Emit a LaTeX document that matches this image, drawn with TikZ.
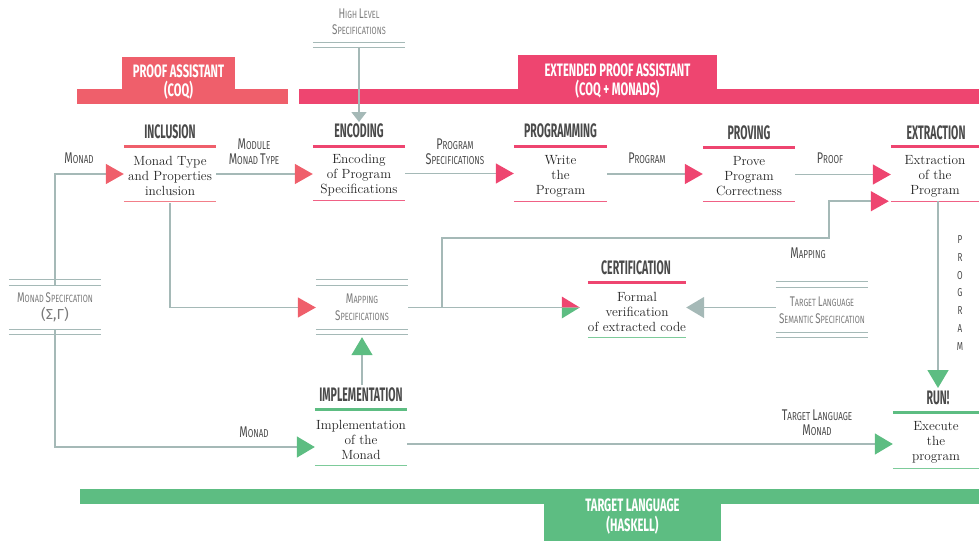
\documentclass[tikz,border=0pt]{standalone}
\usepackage{fontspec}
\usetikzlibrary{arrows.meta,calc}
\newfontfamily\hfont[FakeStretch=0.54]{Fira Sans}
\newfontfamily\bfont[FakeStretch=0.62]{Fira Sans}
\newfontfamily\lfont[FakeStretch=0.7]{Fira Sans}
\newfontfamily\gfont{Fira Sans}
\definecolor{pinkc}{HTML}{EE4570}
\definecolor{salm}{HTML}{EF5F6B}
\definecolor{greenc}{HTML}{5DBD82}
\definecolor{greenl}{HTML}{7DCB9A}
\definecolor{gline}{HTML}{A5B9B7}
\definecolor{titlec}{HTML}{4A4A4A}
\definecolor{labc}{HTML}{4A4A4A}
\definecolor{lightlab}{HTML}{7A7A7A}
\definecolor{txt}{HTML}{222222}
\newcommand\scw[2]{{\fontsize{15.5}{15}\selectfont #1}{\fontsize{11.5}{15}\selectfont #2}}
\newcommand\scws[2]{{\fontsize{14}{17}\selectfont #1}{\fontsize{10.5}{17}\selectfont #2}}
\tikzset{
  box/.style={minimum width=92pt, minimum height=54pt, inner sep=0pt, align=center,
    font=\fontsize{13.3}{15}\selectfont, text=txt},
  gbox/.style={minimum width=92pt, minimum height=43pt, inner sep=0pt, align=center,
    font=\lfont\fontsize{10.5}{17}\selectfont, text=lightlab},
  titlen/.style={anchor=base, inner sep=0pt, font=\hfont\bfseries\fontsize{19.5}{19.5}\selectfont, text=titlec},
  bartext/.style={align=center, inner sep=0pt, text=white, font=\bfont\bfseries\fontsize{18}{19}\selectfont},
  lab/.style={align=center, inner sep=0pt, text=labc, font=\lfont\fontsize{11.5}{15}\selectfont},
  gl/.style={draw=gline, line width=1.5pt},
  tipS/.style={-{Triangle[length=18pt,width=20pt,color=salm]}},
  tipP/.style={-{Triangle[length=18pt,width=20pt,color=pinkc]}},
  tipG/.style={-{Triangle[length=18pt,width=21pt,color=greenc]}},
  tipGray/.style={-{Triangle[length=10pt,width=15pt,color=gline]}},
  tipGrayB/.style={-{Triangle[length=18pt,width=21pt,color=gline]}},
  topl/.style={line width=3pt},
  botl/.style={line width=1.3pt},
  dbl/.style={draw=gline, line width=1.3pt}
}
\newcommand\boxlines[3]{%
  \draw[topl,#2] ([yshift=2pt]#1.north west) -- ([yshift=2pt]#1.north east);
  \draw[botl,#3] ([yshift=2pt]#1.south west) -- ([yshift=2pt]#1.south east);}
\newcommand\dbltop[1]{%
  \draw[dbl] (#1.north west) -- (#1.north east);
  \draw[dbl] ([yshift=6pt]#1.north west) -- ([yshift=6pt]#1.north east);}
\newcommand\dblbot[1]{%
  \draw[dbl] (#1.south west) -- (#1.south east);
  \draw[dbl] ([yshift=-5.5pt]#1.south west) -- ([yshift=-5.5pt]#1.south east);}
\begin{document}
\begin{tikzpicture}[x=1pt,y=-1pt]
\useasboundingbox (0,0) rectangle (979,541);
% bars
\fill[salm] (77,89) rectangle (288,104);
\fill[salm] (122,57) rectangle (235,89);
\node[bartext] (pa) at (178.5,82) {PROOF ASSISTANT\\(COQ)};
\fill[pinkc] (299,89) rectangle (979,104);
\fill[pinkc] (518,55) rectangle (717,89);
\node[bartext] (epa) at (617.5,81) {EXTENDED PROOF ASSISTANT\\(COQ + MONADS)};
\fill[greenc] (80,489) rectangle (979,504);
\fill[greenc] (544,504) rectangle (721,541);
\node[bartext, font=\bfont\bfseries\fontsize{18}{20}\selectfont] (tl) at (632.5,517) {TARGET LANGUAGE\\(HASKELL)};
% boxes
\node[box] (inc) at (170,176) {Monad Type\\and Properties\\inclusion};
\node[box] (enc) at (359,175.5) {Encoding\\of Program\\Specifications};
\node[box, minimum width=93pt] (prog) at (560.5,176) {Write\\the\\Program};
\node[box] (prov) at (749,176.5) {Prove\\Program\\Correctness};
\node[box, minimum width=88pt] (ext) at (935,176) {Extraction\\of the\\Program};
\node[box] (cert) at (637,312) {Formal\\verification\\of extracted code};
\node[box, minimum height=55pt] (impl) at (361,439.5) {Implementation\\of the\\Monad};
\node[box, minimum width=86pt, minimum height=55pt] (run) at (936,442.5) {Execute\\the\\program};
\boxlines{inc}{salm}{salm!80}
\boxlines{enc}{pinkc}{pinkc!85}
\boxlines{prog}{pinkc}{pinkc!85}
\boxlines{prov}{pinkc}{pinkc!85}
\boxlines{ext}{pinkc}{pinkc!85}
\boxlines{cert}{pinkc}{greenl}
\boxlines{impl}{greenc}{greenl}
\boxlines{run}{greenc}{greenl}
% titles
\node[titlen] (incT) at (170,138) {INCLUSION};
\node[titlen] (encT) at (359,137.5) {ENCODING};
\node[titlen] (progT) at (560.5,137.5) {PROGRAMMING};
\node[titlen] (provT) at (749,139) {PROVING};
\node[titlen] (extT) at (936,139) {EXTRACTION};
\node[titlen] (certT) at (636,274) {CERTIFICATION};
\node[titlen] (implT) at (361,401) {IMPLEMENTATION};
\node[titlen] (runT) at (938,404) {RUN!};
% gray spec boxes
\node[gbox] (msp) at (55,307.5) {\scws{M}{ONAD} \scws{S}{PECIFCATION}\\{\gfont\fontsize{14.5}{17}\selectfont(Σ,Γ)}};
\dbltop{msp}\dblbot{msp}
\node[gbox] (map) at (362,307.5) {\scws{M}{APPING}\\\scws{S}{PECIFICATIONS}};
\dbltop{map}\dblbot{map}
\node[gbox, minimum height=44pt] (tlss) at (822,310) {\scws{T}{ARGET} \scws{L}{ANGUAGE}\\\scws{S}{EMANTIC} \scws{S}{PECIFICATION}};
\dbltop{tlss}\dblbot{tlss}
\node[gbox, minimum height=40pt, font=\lfont\fontsize{10.5}{16}\selectfont] (hls) at (359,22) {\scws{H}{IGH} \scws{L}{EVEL}\\\scws{S}{PECIFICATIONS}};
\dblbot{hls}
% coordinates
\coordinate (encIn) at (359,122);
\coordinate (runIn) at (938,388);
\coordinate (implUp) at (362,385);
\coordinate (cIn) at ($(cert.west |- map.east)+(-26,0)$);
\coordinate (br) at ($(map.east)+(34,0)$);
\coordinate (extKnee) at (829,238);
% connectors
\draw[gl,tipS] (msp.north) |- ([yshift=2pt]inc.west);
\draw[gl,tipG] (msp.south) |- ([yshift=-7.5pt]impl.west);
\draw[gl,tipS] ([yshift=2pt]inc.east) -- ([yshift=2pt]inc.east -| enc.west);
\draw[gl,tipS] (inc.south) |- (map.west);
\draw[gl,tipGray] ([yshift=-5.5pt]hls.south) -- (encIn);
\draw[gl,tipP] ([yshift=2pt]enc.east) -- ([yshift=2pt]enc.east -| prog.west);
\draw[gl,tipP] ([yshift=2pt]prog.east) -- ([yshift=2pt]prog.east -| prov.west);
\draw[gl,tipP] ([yshift=2pt]prov.east) -- ([yshift=2pt]prov.east -| ext.west);
\draw[gl] (map.east) -- (cIn);
\fill[pinkc] (cIn) -- ++(0,-11) -- ++(18,11) -- cycle;
\fill[greenc] (cIn) -- ++(0,11) -- ++(18,-11) -- cycle;
\draw[gl,tipP] (br) |- (extKnee) |- ([xshift=-2pt,yshift=2pt]ext.south west);
\draw[gl,tipGrayB] (tlss.west |- cIn) -- (cert.east |- cIn);
\draw[gl,tipG] ([yshift=2pt]runIn |- ext.south) -- (runIn);
\draw[gl,tipG] ([yshift=-4.5pt]impl.east) -- ([yshift=-4.5pt]impl.east -| run.west);
\draw[gl,tipG] (implUp) -- ([yshift=-8pt]map.south);
% labels
\node[lab] (lMonadA) at (79,158) {\scw{M}{ONAD}};
\node[lab] (lModule) at (254,151.5) {\scw{M}{ODULE}\\\scw{M}{ONAD} \scw{T}{YPE}};
\node[lab] (lProgSpec) at (455,152) {\scw{P}{ROGRAM}\\\scw{S}{PECIFICATIONS}};
\node[lab] (lProg) at (647,158) {\scw{P}{ROGRAM}};
\node[lab] (lProof) at (830,158) {\scw{P}{ROOF}};
\node[lab] (lMapping) at (808,253) {\scw{M}{APPING}};
\node[lab] (lMonadB) at (254,432) {\scw{M}{ONAD}};
\node[lab] (lTLM) at (817,422.5) {\scw{T}{ARGET} \scw{L}{ANGUAGE}\\\scw{M}{ONAD}};
\node[lab, font=\lfont\fontsize{11.5}{17.7}\selectfont] (progV) at (960,293) {P\\R\\O\\G\\R\\A\\M};
\end{tikzpicture}
\end{document}
